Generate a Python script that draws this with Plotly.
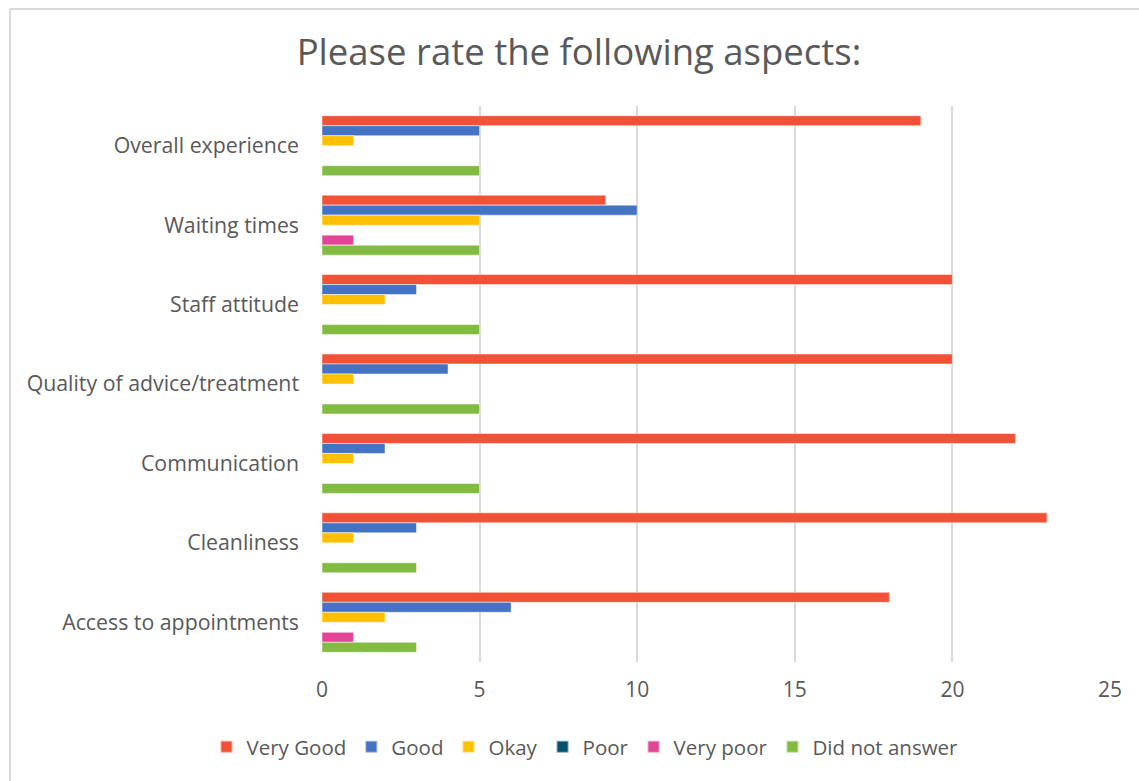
import plotly.graph_objects as go

categories = ["Overall experience", "Waiting times", "Staff attitude",
              "Quality of advice/treatment", "Communication", "Cleanliness",
              "Access to appointments"]
series_names = ["Very Good", "Good", "Okay", "Poor", "Very poor", "Did not answer"]
very_good = [19, 9, 20, 20, 22, 23, 18]
good = [5, 10, 3, 4, 2, 3, 6]
okay = [1, 5, 2, 1, 1, 1, 2]
poor = [0, 0, 0, 0, 0, 0, 0]
very_poor = [0, 1, 0, 0, 0, 0, 1]
did_not_answer = [5, 5, 5, 5, 5, 3, 3]
colors = ["#F25037", "#4472C4", "#FFC000", "#00506E", "#E44496", "#82BB41"]

series_values = [very_good, good, okay, poor, very_poor, did_not_answer]

FONT = "Open Sans"
TXT = "#595959"

fig = go.Figure()
for name, vals, col in zip(series_names, series_values, colors):
    fig.add_trace(go.Bar(
        y=categories, x=vals, name=name, orientation="h",
        marker=dict(color=col, line=dict(color="rgba(255,255,255,0.5)", width=1)),
    ))

W, H = 1139, 781
ml, mr, mt, mb = 322, 29, 106, 119
pw, ph = W - ml - mr, H - mt - mb
bx = (10 - ml) / pw
by = 1 + (mt - 9) / ph

fig.update_layout(
    width=W, height=H,
    margin=dict(l=ml, r=mr, t=mt, b=mb, autoexpand=False),
    paper_bgcolor="white", plot_bgcolor="white",
    barmode="group", bargap=0.245, bargroupgap=0,
    font=dict(family=FONT, color=TXT, size=20),
    title=dict(text="Please rate the following aspects:", x=579 / W, xanchor="center",
               xref="container",
               y=1 - 52 / H, yanchor="middle", font=dict(size=36.5, color=TXT, family=FONT)),
    xaxis=dict(range=[0, 25], dtick=5, showgrid=True, gridcolor="#D9D9D9", gridwidth=2,
               zeroline=False, showline=False, ticks="", tickfont=dict(size=21, color=TXT),
               ticklabelstandoff=13, fixedrange=True),
    yaxis=dict(categoryorder="array", categoryarray=categories, autorange="reversed",
               showgrid=False, zeroline=False, showline=False, ticks="",
               tickfont=dict(size=21.3, color=TXT), ticklabelstandoff=22),
    legend=dict(orientation="h", xref="container", x=585 / W, xanchor="center",
                yref="container", y=1 - 747 / H, yanchor="middle",
                font=dict(size=20.5, color=TXT), traceorder="normal",
                itemwidth=30, itemsizing="constant"),
    showlegend=True,
    shapes=[
        dict(type="line", xref="paper", yref="paper", x0=bx, x1=bx, y0=-0.5, y1=by,
             line=dict(color="#D9D9D9", width=2)),
        dict(type="line", xref="paper", yref="paper", x0=bx, x1=1.2, y0=by, y1=by,
             line=dict(color="#D9D9D9", width=2)),
    ],
)

fig.write_html("out.html")
